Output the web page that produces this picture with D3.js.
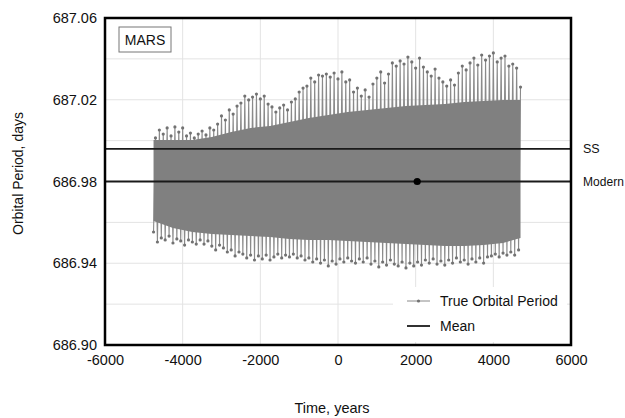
<!DOCTYPE html>
<meta charset="utf-8">
<head>
<script src="https://cdn.jsdelivr.net/npm/d3@7"></script>
<style>
  body { margin: 0; background: #fff; }
  text { font-family: "Liberation Sans", Arial, sans-serif; fill: #111; }
</style>
</head>
<body>
<svg width=625 height=418></svg>
<script>
// axis ticks and grid
let xTicks = [-6000, -4000, -2000, 0, 2000, 4000, 6000];
let yTicks = [686.90, 686.94, 686.98, 687.02, 687.06];
let xGrid = [-4000, -2000, 0, 2000, 4000];
let yGrid = [686.92, 686.94, 686.96, 686.98, 687.00, 687.02, 687.04];

// true orbital period: lower and upper tips of the oscillation
let lowYears = d3.range(-4750, 4700, 100);
let highYears = d3.range(-4700, 4750, 100);
let lowTips = [
  686.9553, 686.9504, 686.9524, 686.9514, 686.9533, 686.9499, 686.9519, 686.9509, 686.9489, 686.9514,
  686.9504, 686.9494, 686.9514, 686.9494, 686.9509, 686.9484, 686.9465, 686.9489, 686.9475, 686.9455,
  686.9465, 686.9436, 686.9455, 686.9445, 686.9426, 686.9440, 686.9416, 686.9436, 686.9421, 686.9440,
  686.9416, 686.9431, 686.9445, 686.9426, 686.9440, 686.9431, 686.9445, 686.9426, 686.9436, 686.9416,
  686.9426, 686.9406, 686.9421, 686.9401, 686.9416, 686.9387, 686.9411, 686.9396, 686.9421, 686.9406,
  686.9426, 686.9411, 686.9401, 686.9421, 686.9406, 686.9426, 686.9396, 686.9411, 686.9382, 686.9406,
  686.9391, 686.9416, 686.9396, 686.9387, 686.9406, 686.9377, 686.9401, 686.9387, 686.9406, 686.9391,
  686.9416, 686.9401, 686.9421, 686.9396, 686.9411, 686.9391, 686.9416, 686.9401, 686.9426, 686.9406,
  686.9416, 686.9396, 686.9421, 686.9406, 686.9426, 686.9401, 686.9431, 686.9436, 686.9445, 686.9431,
  686.9450, 686.9440, 686.9455, 686.9440, 686.9465
];
let highTips = [
  687.0013, 687.0052, 687.0032, 687.0062, 687.0023, 687.0067, 687.0042, 687.0062, 687.0023, 687.0037,
  687.0013, 687.0032, 687.0047, 687.0028, 687.0062, 687.0052, 687.0081, 687.0121, 687.0101, 687.0150,
  687.0130, 687.0169, 687.0184, 687.0218, 687.0199, 687.0213, 687.0228, 687.0204, 687.0218, 687.0179,
  687.0165, 687.0140, 687.0160, 687.0174, 687.0150, 687.0189, 687.0204, 687.0238, 687.0257, 687.0267,
  687.0306, 687.0287, 687.0321, 687.0316, 687.0326, 687.0311, 687.0331, 687.0302, 687.0336, 687.0287,
  687.0297, 687.0238, 687.0257, 687.0218, 687.0248, 687.0213, 687.0277, 687.0306, 687.0336, 687.0282,
  687.0326, 687.0380, 687.0365, 687.0390, 687.0375, 687.0409, 687.0385, 687.0355, 687.0404, 687.0360,
  687.0336, 687.0316, 687.0350, 687.0306, 687.0287, 687.0267, 687.0297, 687.0272, 687.0331, 687.0365,
  687.0346, 687.0380, 687.0404, 687.0370, 687.0419, 687.0394, 687.0414, 687.0429, 687.0385, 687.0404,
  687.0414, 687.0365, 687.0375, 687.0355, 687.0262
];

// edges of the dense (solid) part of the band
let bandYears = [-4750, -4250, -3750, -3250, -2750, -2250, -1750, -1250, -750, -250,
                 250, 750, 1250, 1750, 2250, 2750, 3250, 3750, 4250, 4700];
let bandTop = [687.0003, 687.0003, 687.0003, 687.0018, 687.0042, 687.0062, 687.0072, 687.0091, 687.0111, 687.0125,
               687.0140, 687.0150, 687.0160, 687.0169, 687.0174, 687.0179, 687.0189, 687.0194, 687.0199, 687.0199];
let bandBottom = [686.9607, 686.9572, 686.9553, 686.9543, 686.9538, 686.9533, 686.9528, 686.9519, 686.9514, 686.9514,
                  686.9509, 686.9504, 686.9499, 686.9494, 686.9489, 686.9484, 686.9484, 686.9489, 686.9499, 686.9524];

// reference levels
let meanPeriod = 686.980;
let ssPeriod = 686.996;
let modernYear = 2040;

let svg = d3.select('svg');
let mLeft = 105, mRight = 571, mTop = 18, mBottom = 345;

let x = d3.scaleLinear().domain([-6000, 6000]).range([mLeft, mRight]);
let y = d3.scaleLinear().domain([686.90, 687.06]).range([mBottom, mTop]);

// grid
svg.append('g').selectAll('line').data(xGrid).enter().append('line')
    .attr('x1', d => x(d)).attr('x2', d => x(d))
    .attr('y1', mTop).attr('y2', mBottom)
    .attr('stroke', '#e3e3e3').attr('stroke-width', 1);
svg.append('g').selectAll('line').data(yGrid).enter().append('line')
    .attr('x1', mLeft).attr('x2', mRight)
    .attr('y1', d => y(d)).attr('y2', d => y(d))
    .attr('stroke', '#e3e3e3').attr('stroke-width', 1);

// legend background covers the grid
svg.append('rect')
    .attr('x', 393).attr('y', 287).attr('width', 174).attr('height', 55)
    .attr('fill', '#fff');

// series: zigzag between low and high tips
let points = [];
lowYears.forEach(function (t, i) {
    points.push({ t: t, v: lowTips[i] });
    points.push({ t: highYears[i], v: highTips[i] });
});

let line = d3.line().x(d => x(d.t)).y(d => y(d.v));
svg.append('path')
    .datum(points)
    .attr('d', line)
    .attr('fill', 'none')
    .attr('stroke', '#8a8a8a')
    .attr('stroke-width', 1.1);

svg.append('g').selectAll('circle').data(points).enter().append('circle')
    .attr('cx', d => x(d.t)).attr('cy', d => y(d.v))
    .attr('r', 1.6)
    .attr('fill', '#727272');

let band = d3.area()
    .x((d, i) => x(bandYears[i]))
    .y0((d, i) => y(bandBottom[i]))
    .y1((d, i) => y(bandTop[i]));
svg.append('path')
    .datum(bandYears)
    .attr('d', band)
    .attr('fill', '#808080');

// SS and mean lines
[ssPeriod, meanPeriod].forEach(function (v) {
    svg.append('line')
        .attr('x1', mLeft).attr('x2', mRight)
        .attr('y1', y(v)).attr('y2', y(v))
        .attr('stroke', '#1a1a1a').attr('stroke-width', 1.8);
});
svg.append('circle')
    .attr('cx', x(modernYear)).attr('cy', y(meanPeriod))
    .attr('r', 3.6).attr('fill', '#000');

svg.append('text').attr('x', 583).attr('y', y(ssPeriod)).attr('dy', '0.35em')
    .attr('font-size', 12.5).text('SS');
svg.append('text').attr('x', 583).attr('y', y(meanPeriod)).attr('dy', '0.35em')
    .attr('font-size', 12).attr('textLength', 41).text('Modern');

// frame
svg.append('rect')
    .attr('x', mLeft).attr('y', mTop)
    .attr('width', mRight - mLeft).attr('height', mBottom - mTop)
    .attr('fill', 'none').attr('stroke', '#000').attr('stroke-width', 2.5);

// axes
let xAxis = d3.axisBottom(x).tickValues(xTicks).tickSize(0).tickPadding(10).tickFormat(d => String(d));
let gx = svg.append('g').attr('transform', `translate(0, ${mBottom})`).call(xAxis);
gx.select('.domain').remove();
gx.selectAll('text').attr('font-size', 14.5).attr('font-family', null).style('fill', '#111');

let yAxis = d3.axisLeft(y).tickValues(yTicks).tickSize(0).tickPadding(8).tickFormat(d3.format('.2f'));
let gy = svg.append('g').attr('transform', `translate(${mLeft}, 0)`).call(yAxis);
gy.select('.domain').remove();
gy.selectAll('text').attr('font-size', 14.5).attr('font-family', null).style('fill', '#111');

// titles
svg.append('text')
    .attr('x', (mLeft + mRight) / 2 - 6).attr('y', 413)
    .attr('text-anchor', 'middle').attr('font-size', 14.5)
    .text('Time, years');
svg.append('text')
    .attr('transform', `translate(23, ${(mTop + mBottom) / 2 - 8}) rotate(-90)`)
    .attr('text-anchor', 'middle').attr('font-size', 14)
    .text('Orbital Period, days');

// MARS label
svg.append('rect')
    .attr('x', 119).attr('y', 27).attr('width', 52).attr('height', 25)
    .attr('fill', '#fff').attr('stroke', '#777').attr('stroke-width', 1);
svg.append('text')
    .attr('x', 145).attr('y', 40).attr('dy', '0.35em')
    .attr('text-anchor', 'middle').attr('font-size', 14)
    .text('MARS');

// legend
let legend = svg.append('g');
legend.append('line')
    .attr('x1', 407).attr('x2', 430).attr('y1', 301).attr('y2', 301)
    .attr('stroke', '#8a8a8a').attr('stroke-width', 1);
legend.append('circle').attr('cx', 418.5).attr('cy', 301).attr('r', 1.6).attr('fill', '#727272');
legend.append('text').attr('x', 440).attr('y', 301).attr('dy', '0.35em')
    .attr('font-size', 14).text('True Orbital Period');
legend.append('line')
    .attr('x1', 407).attr('x2', 430).attr('y1', 326).attr('y2', 326)
    .attr('stroke', '#1a1a1a').attr('stroke-width', 1.8);
legend.append('text').attr('x', 440).attr('y', 326).attr('dy', '0.35em')
    .attr('font-size', 14).text('Mean');
</script>
</body>
